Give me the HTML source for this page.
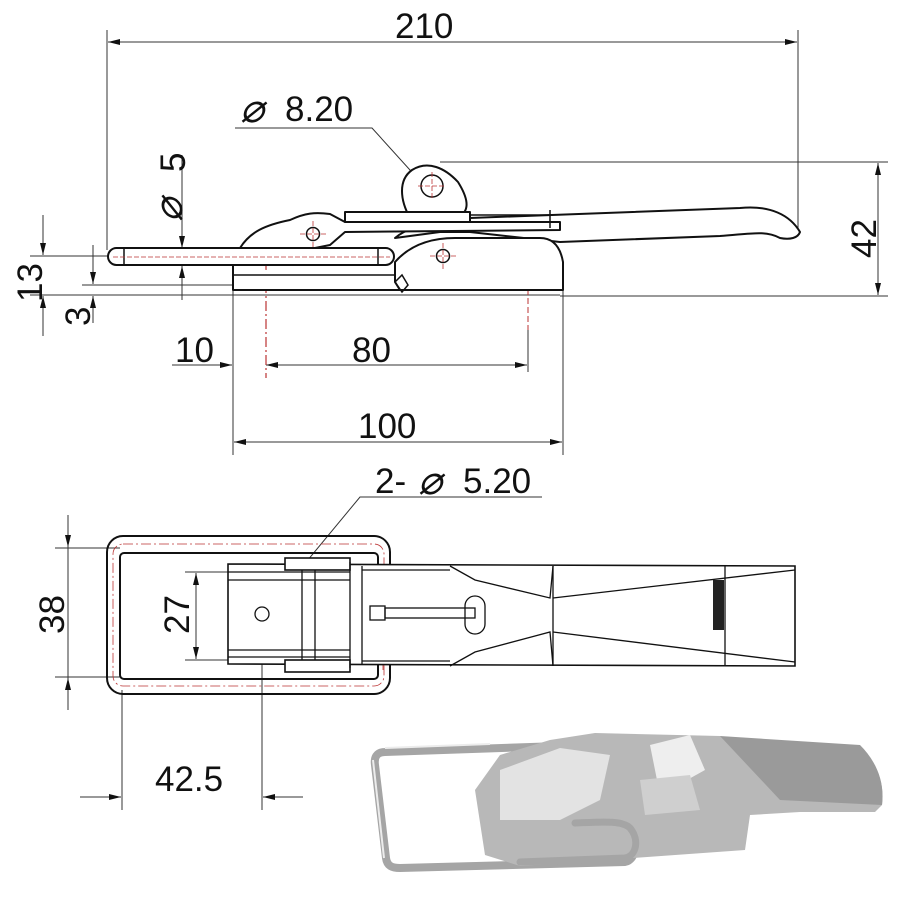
<!DOCTYPE html>
<html><head><meta charset="utf-8"><style>
html,body{margin:0;padding:0;background:#fff;}
svg{display:block;}
text{font-family:"Liberation Sans",sans-serif;fill:#111;}
</style></head><body>
<svg width="900" height="900" viewBox="0 0 900 900" xmlns="http://www.w3.org/2000/svg">
<defs>
<marker id="a" viewBox="0 0 12 8" refX="12" refY="4" markerUnits="userSpaceOnUse" markerWidth="12" markerHeight="8" orient="auto-start-reverse"><path d="M0,1 L12,4 L0,7z" fill="#111"/></marker>
</defs>
<g stroke="#333" stroke-width="1" fill="none">
<line x1="107" y1="30" x2="107" y2="250"/>
<line x1="798" y1="30" x2="798" y2="232"/>
<line x1="108" y1="42" x2="797" y2="42" marker-start="url(#a)" marker-end="url(#a)"/>
<polyline points="235,128 372,128 448,212"/>
<line x1="182" y1="155" x2="182" y2="248" marker-end="url(#a)"/>
<line x1="182" y1="300" x2="182" y2="266" marker-end="url(#a)"/>
<line x1="440" y1="162" x2="888" y2="162"/>
<line x1="560" y1="296" x2="888" y2="296"/>
<line x1="878" y1="163" x2="878" y2="295" marker-start="url(#a)" marker-end="url(#a)"/>
<line x1="30" y1="256" x2="110" y2="256"/>
<line x1="82" y1="285" x2="233" y2="285"/>
<line x1="30" y1="295" x2="560" y2="295"/>
<line x1="43" y1="215" x2="43" y2="255" marker-end="url(#a)"/>
<line x1="43" y1="336" x2="43" y2="296" marker-end="url(#a)"/>
<line x1="93" y1="245" x2="93" y2="284" marker-end="url(#a)"/>
<line x1="93" y1="323" x2="93" y2="296" marker-end="url(#a)"/>
<line x1="233" y1="265" x2="233" y2="455"/>
<line x1="563" y1="290" x2="563" y2="455"/>
<line x1="528" y1="330" x2="528" y2="372"/>
<line x1="172" y1="365" x2="232" y2="365" marker-end="url(#a)"/>
<line x1="266" y1="365" x2="527" y2="365" marker-start="url(#a)" marker-end="url(#a)"/>
<line x1="234" y1="442" x2="562" y2="442" marker-start="url(#a)" marker-end="url(#a)"/>
</g>
<line x1="266" y1="265" x2="266" y2="378" stroke="#b33" stroke-width="1.2" stroke-dasharray="10,3,2,3"/>
<line x1="528" y1="280" x2="528" y2="330" stroke="#b33" stroke-width="1" stroke-dasharray="6,3"/>
<g stroke="#111" stroke-width="2" fill="#fff" stroke-linejoin="round">
<path d="M395,238 C410,225 430,225 470,218 L740,208 C770,205 790,215 800,232 C798,238 790,240 780,238 C765,230 750,234 720,236 L560,242 L470,232 L440,232 Z"/>
<path d="M233,265 L233,290 L563,290 L563,262 C560,245 552,238 540,238 L455,238 C430,238 410,245 395,262 L395,282 L400,290"/>
<path d="M240,248 C250,232 265,225 290,220 C305,213 315,212 330,214 L345,222 L560,222 L560,230 L345,232 L330,245 L305,250 Z" fill="#fff"/>
<path d="M410,218 C400,200 398,180 412,170 C428,160 445,168 458,182 C468,198 470,210 460,216 Z"/>
<rect x="108" y="248" width="286" height="17" rx="8.5"/>
<path d="M345,212 L470,212 L470,222 L345,222 Z"/>
</g>
<g stroke="#111" stroke-width="1.5" fill="none">
<line x1="233" y1="275" x2="395" y2="275"/>
<line x1="124" y1="249" x2="124" y2="265"/>
<line x1="378" y1="249" x2="378" y2="265"/>
<line x1="470" y1="215" x2="550" y2="215"/>
<line x1="550" y1="210" x2="550" y2="228"/>
<circle cx="432" cy="186" r="11"/>
<circle cx="313" cy="234" r="6.5"/>
<circle cx="443" cy="256" r="6.5"/>
<path d="M395,282 L402,275 L408,285 L402,292Z"/>
</g>
<g stroke="#b33" stroke-width="0.8" stroke-dasharray="5,2">
<line x1="113" y1="257" x2="390" y2="257"/>
<line x1="418" y1="186" x2="446" y2="186"/><line x1="432" y1="172" x2="432" y2="200"/>
<line x1="300" y1="234" x2="326" y2="234"/><line x1="313" y1="221" x2="313" y2="247"/>
<line x1="430" y1="256" x2="456" y2="256"/><line x1="443" y1="243" x2="443" y2="269"/>
</g>
<text x="395" y="38" font-size="35">210</text>
<text x="285" y="121" font-size="35">8.20</text>
<text x="240" y="122" font-size="40" font-style="italic" fill="#555">⌀</text>
<text transform="translate(185,172) rotate(-90)" font-size="35">5</text>
<text transform="translate(182,222) rotate(-90)" font-size="40" font-style="italic" fill="#555">⌀</text>
<text transform="translate(876,258) rotate(-90)" font-size="35">42</text>
<text transform="translate(42,302) rotate(-90)" font-size="35">13</text>
<text transform="translate(90,326) rotate(-90)" font-size="35">3</text>
<text x="175" y="362" font-size="35">10</text>
<text x="352" y="362" font-size="35">80</text>
<text x="358" y="438" font-size="35">100</text>
<g stroke="#333" stroke-width="1" fill="none">
<polyline points="542,497 360,497 240,642"/>
<line x1="68" y1="515" x2="68" y2="710"/>
<line x1="55" y1="548" x2="120" y2="548"/>
<line x1="55" y1="677" x2="120" y2="677"/>
<line x1="68" y1="520" x2="68" y2="547" marker-end="url(#a)"/>
<line x1="68" y1="705" x2="68" y2="678" marker-end="url(#a)"/>
<line x1="185" y1="572" x2="232" y2="572"/>
<line x1="185" y1="660" x2="232" y2="660"/>
<line x1="196" y1="573" x2="196" y2="659" marker-start="url(#a)" marker-end="url(#a)"/>
<line x1="122" y1="690" x2="122" y2="810"/>
<line x1="262" y1="600" x2="262" y2="810"/>
<line x1="80" y1="797" x2="121" y2="797" marker-end="url(#a)"/>
<line x1="303" y1="797" x2="263" y2="797" marker-end="url(#a)"/>
</g>
<g stroke="#111" stroke-width="2" fill="none">
<rect x="107" y="536" width="283" height="158" rx="16"/>
<rect x="120" y="553" width="258" height="126" rx="4"/>
</g>
<g stroke="#b33" stroke-width="0.8" stroke-dasharray="10,3,2,3" fill="none">
<rect x="113" y="544" width="271" height="142" rx="10"/>
<line x1="383" y1="570" x2="383" y2="670"/>
<line x1="248" y1="614" x2="276" y2="614"/><line x1="262" y1="600" x2="262" y2="628"/>
</g>
<g stroke="#111" stroke-width="1.6" fill="#fff">
<path d="M228,564 L795,566 L795,666 L228,664 Z"/>
<rect x="285" y="558" width="65" height="12"/>
<rect x="285" y="660" width="65" height="12"/>
</g>
<g stroke="#111" stroke-width="1.3" fill="none">
<line x1="228" y1="572" x2="350" y2="572"/><line x1="228" y1="657" x2="350" y2="657"/>
<line x1="228" y1="580" x2="350" y2="580"/><line x1="228" y1="650" x2="350" y2="650"/>
<line x1="302" y1="570" x2="302" y2="660"/><line x1="315" y1="570" x2="315" y2="660"/>
<line x1="350" y1="562" x2="350" y2="668"/>
<line x1="362" y1="566" x2="362" y2="664"/>
<line x1="362" y1="570" x2="450" y2="570"/><line x1="362" y1="661" x2="450" y2="661"/>
<polyline points="450,566 475,580 550,598 553,566"/>
<polyline points="450,666 475,652 550,632 553,666"/>
<line x1="553" y1="566" x2="553" y2="666"/>
<polyline points="553,598 795,570"/><polyline points="553,632 795,662"/>
<line x1="725" y1="566" x2="725" y2="666"/>
<rect x="370" y="606" width="15" height="14"/>
<rect x="385" y="608" width="90" height="10"/>
<rect x="465" y="596" width="20" height="38" rx="10"/>
<circle cx="262" cy="614" r="7"/>
</g>
<rect x="713" y="580" width="11" height="50" fill="#222"/>
<text x="375" y="493" font-size="35">2-</text>
<text x="418" y="494" font-size="40" font-style="italic" fill="#555">⌀</text>
<text x="463" y="493" font-size="35">5.20</text>
<text transform="translate(64,634) rotate(-90)" font-size="35">38</text>
<text transform="translate(189,634) rotate(-90)" font-size="35">27</text>
<text x="155" y="791" font-size="35">42.5</text>
<!-- 3D photo -->
<g fill="none" stroke="#a5a5a5" stroke-width="8" stroke-linejoin="round" stroke-linecap="round">
<path d="M560,746 L385,752 C376,752 374,758 375,765 L386,858 C387,866 392,868 400,868 L625,862 C636,860 640,840 630,828 C622,820 600,822 580,823"/>
</g>
<g stroke="none">
<path d="M595,733 L720,736 L745,745 L858,745 C875,760 885,780 882,805 L875,812 L800,812 L750,815 L745,850 L520,866 L485,855 L475,790 L500,755 L550,740 Z" fill="#b8b8b8"/>
<path d="M720,736 L860,745 C875,760 885,780 882,805 L780,800 Z" fill="#9a9a9a"/>
<path d="M500,770 L560,748 L610,755 L600,800 L560,820 L500,820 Z" fill="#e3e3e3"/>
<path d="M650,745 L690,735 L705,770 L660,795 Z" fill="#eee"/>
<path d="M640,780 L690,775 L700,810 L645,815 Z" fill="#cfcfcf"/>
</g>
<g fill="none" stroke="#a5a5a5" stroke-width="7" stroke-linecap="round">
<path d="M520,862 L625,858 C636,856 640,840 630,828 C622,820 600,822 575,823"/>
</g>
<g fill="none" stroke="#ececec" stroke-width="2"><path d="M490,744 L385,748 M373,760 L384,858"/></g>
</svg>
</body></html>
